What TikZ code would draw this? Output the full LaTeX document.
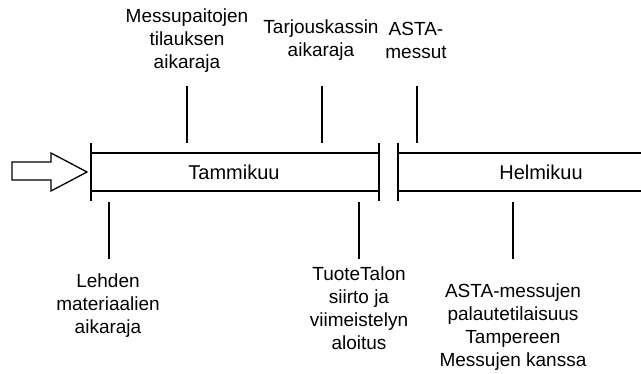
\documentclass[tikz,border=0pt]{standalone}
\usepackage{fontspec}
\setmainfont{Liberation Sans}
\begin{document}
\begin{tikzpicture}[x=1pt,y=-1pt,
  line/.style={line width=1.6pt,black},
  lbl/.style={align=center,inner sep=0pt,font=\fontsize{19}{23}\selectfont},
  month/.style={inner sep=0pt,font=\fontsize{20}{24}\selectfont}]
\useasboundingbox (0,0) rectangle (641,373);
% entry arrow
\draw[line width=1.3pt,fill=white] (12,162) -- (51,162) -- (51,153) -- (87,172) -- (51,191) -- (51,180) -- (12,180) -- cycle;
% month boxes
\node[month] (jan) at (234,172) {Tammikuu};
\node[month] (feb) at (541,172) {Helmikuu};
\draw[line] (91,153) -- (379,153);
\draw[line] (91,191) -- (379,191);
\draw[line] (91,143) -- (91,201);
\draw[line] (379,143) -- (379,201);
\draw[line] (398,153) -- (645,153);
\draw[line] (398,191) -- (645,191);
\draw[line] (398,143) -- (398,201);
% top labels
\node[lbl] (t1) at (187,41) {Messupaitojen\\tilauksen\\aikaraja};
\node[lbl] (t2) at (321,40) {Tarjouskassin\\aikaraja};
\node[lbl] (t3) at (416,40) {ASTA-\\messut};
\draw[line] (187,86) -- (187,143);
\draw[line] (322,86) -- (322,143);
\draw[line] (417,86) -- (417,143);
% bottom labels
\node[lbl] (b1) at (108,306) {Lehden\\materiaalien\\aikaraja};
\node[lbl] (b2) at (359,308) {TuoteTalon\\siirto ja\\viimeistelyn\\aloitus};
\node[lbl] (b3) at (513,327) {ASTA-messujen\\palautetilaisuus\\Tampereen\\Messujen kanssa};
\draw[line] (109,202) -- (109,259);
\draw[line] (359,202) -- (359,259);
\draw[line] (513,202) -- (513,259);
\end{tikzpicture}
\end{document}
